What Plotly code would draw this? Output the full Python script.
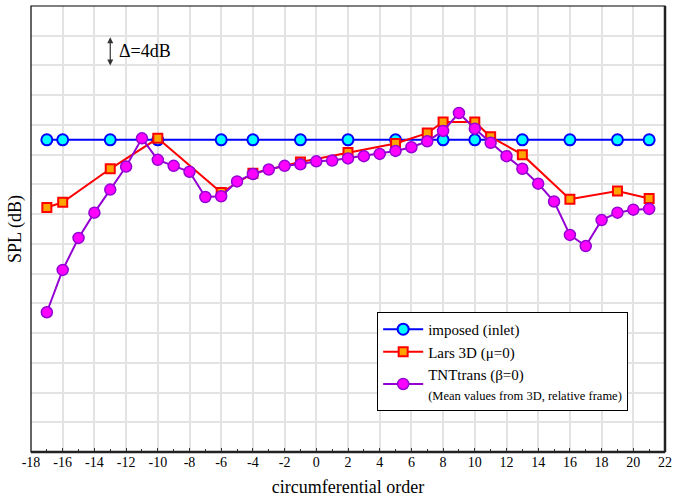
import plotly.graph_objects as go

# ---- data (SPL in dB, relative; one grid step = 4 dB) ----
imposed_x = [-17, -16, -13, -10, -6, -4, -1, 2, 5, 8, 10, 13, 16, 19, 21]
imposed_y = [42.0] * len(imposed_x)

lars_x = [-17, -16, -13, -10, -6, -4, -1, 2, 5, 7, 8, 10, 11, 13, 16, 19, 21]
lars_y = [32.9, 33.6, 38.1, 42.2, 34.9, 37.5, 39.0, 40.3, 41.5, 42.9, 44.4, 44.4,
          42.4, 40.0, 34.0, 35.1, 34.1]

tnt_x = list(range(-17, 22))
tnt_y = [18.8, 24.5, 28.8, 32.2, 35.3, 38.4, 42.2, 39.3, 38.5, 37.7, 34.3, 34.4,
         36.4, 37.4, 38.0, 38.5, 38.7, 39.1, 39.2, 39.5, 39.8, 40.1, 40.5, 41.0,
         41.8, 43.2, 45.6, 43.5, 41.6, 39.8, 38.1, 36.1, 33.7, 29.2, 27.7, 31.2,
         32.2, 32.6, 32.7]

x_ticks = list(range(-18, 23, 2))

FONT = "Liberation Serif, Times New Roman, serif"

fig = go.Figure()
fig.add_trace(go.Scatter(
    x=imposed_x, y=imposed_y, mode="lines+markers", name="imposed (inlet)",
    line=dict(color="#0000FF", width=2),
    marker=dict(symbol="circle", size=11, color="#00FFFF",
                line=dict(color="#0000FF", width=2))))
fig.add_trace(go.Scatter(
    x=lars_x, y=lars_y, mode="lines+markers", name="Lars 3D (\u03bc=0)",
    line=dict(color="#FF0000", width=2),
    marker=dict(symbol="square", size=9, color="#FFA500",
                line=dict(color="#FF0000", width=2))))
fig.add_trace(go.Scatter(
    x=tnt_x, y=tnt_y, mode="lines+markers",
    name="TNTtrans (\u03b2=0)<br><span style='font-size:12.5px'>(Mean values from 3D, relative frame)</span>",
    line=dict(color="#9400D3", width=2),
    marker=dict(symbol="circle", size=11, color="#FF00FF",
                line=dict(color="#9400D3", width=1.5))))

# delta annotation
fig.add_annotation(x=-13, y=52, ax=-13, ay=56, xref="x", yref="y",
                   axref="x", ayref="y", text="", showarrow=True,
                   arrowhead=2, arrowside="end+start", arrowsize=1,
                   arrowwidth=1.2, arrowcolor="#333333")
fig.add_annotation(x=-12.6, y=54, xref="x", yref="y", text="\u0394=4dB",
                   showarrow=False, xanchor="left",
                   font=dict(family=FONT, size=18, color="black"))

# frame
fig.add_shape(type="rect", xref="paper", yref="paper", x0=0, y0=0, x1=1, y1=1,
              line=dict(color="black", width=1.2))
fig.add_shape(type="line", xref="paper", yref="paper", x0=0, y0=0, x1=1, y1=0,
              line=dict(color="#222222", width=2.5))
fig.add_shape(type="line", xref="paper", yref="paper", x0=1, y0=0, x1=1, y1=1,
              line=dict(color="#222222", width=2.5))

fig.update_layout(
    width=678, height=501,
    margin=dict(l=31, r=10, t=6, b=49),
    paper_bgcolor="white", plot_bgcolor="white",
    font=dict(family=FONT, size=13, color="black"),
    showlegend=True,
    legend=dict(x=0.546, y=0.314, xanchor="left", yanchor="top",
                bgcolor="white", bordercolor="black", borderwidth=1,
                font=dict(family=FONT, size=15), itemwidth=40,
                tracegroupgap=0),
    xaxis=dict(range=[-18, 22], tickvals=x_ticks, ticktext=[str(v) for v in x_ticks],
               showgrid=True, gridcolor="#e3e3e3", gridwidth=1.5,
               ticks="inside", ticklen=4, tickcolor="#333",
               minor=dict(dtick=1, ticks="inside", ticklen=3, showgrid=False, tickcolor="#333"),
               zeroline=False, showline=False,
               title=dict(text="circumferential order", font=dict(family=FONT, size=18), standoff=11),
               tickfont=dict(family=FONT, size=14)),
    yaxis=dict(range=[0, 60], tick0=0, dtick=4, showticklabels=False,
               showgrid=True, gridcolor="#e3e3e3", gridwidth=1.5,
               ticks="", zeroline=False, showline=False,
               title=dict(text="SPL (dB)", font=dict(family=FONT, size=18), standoff=3)),
)

fig.write_html("out.html")
